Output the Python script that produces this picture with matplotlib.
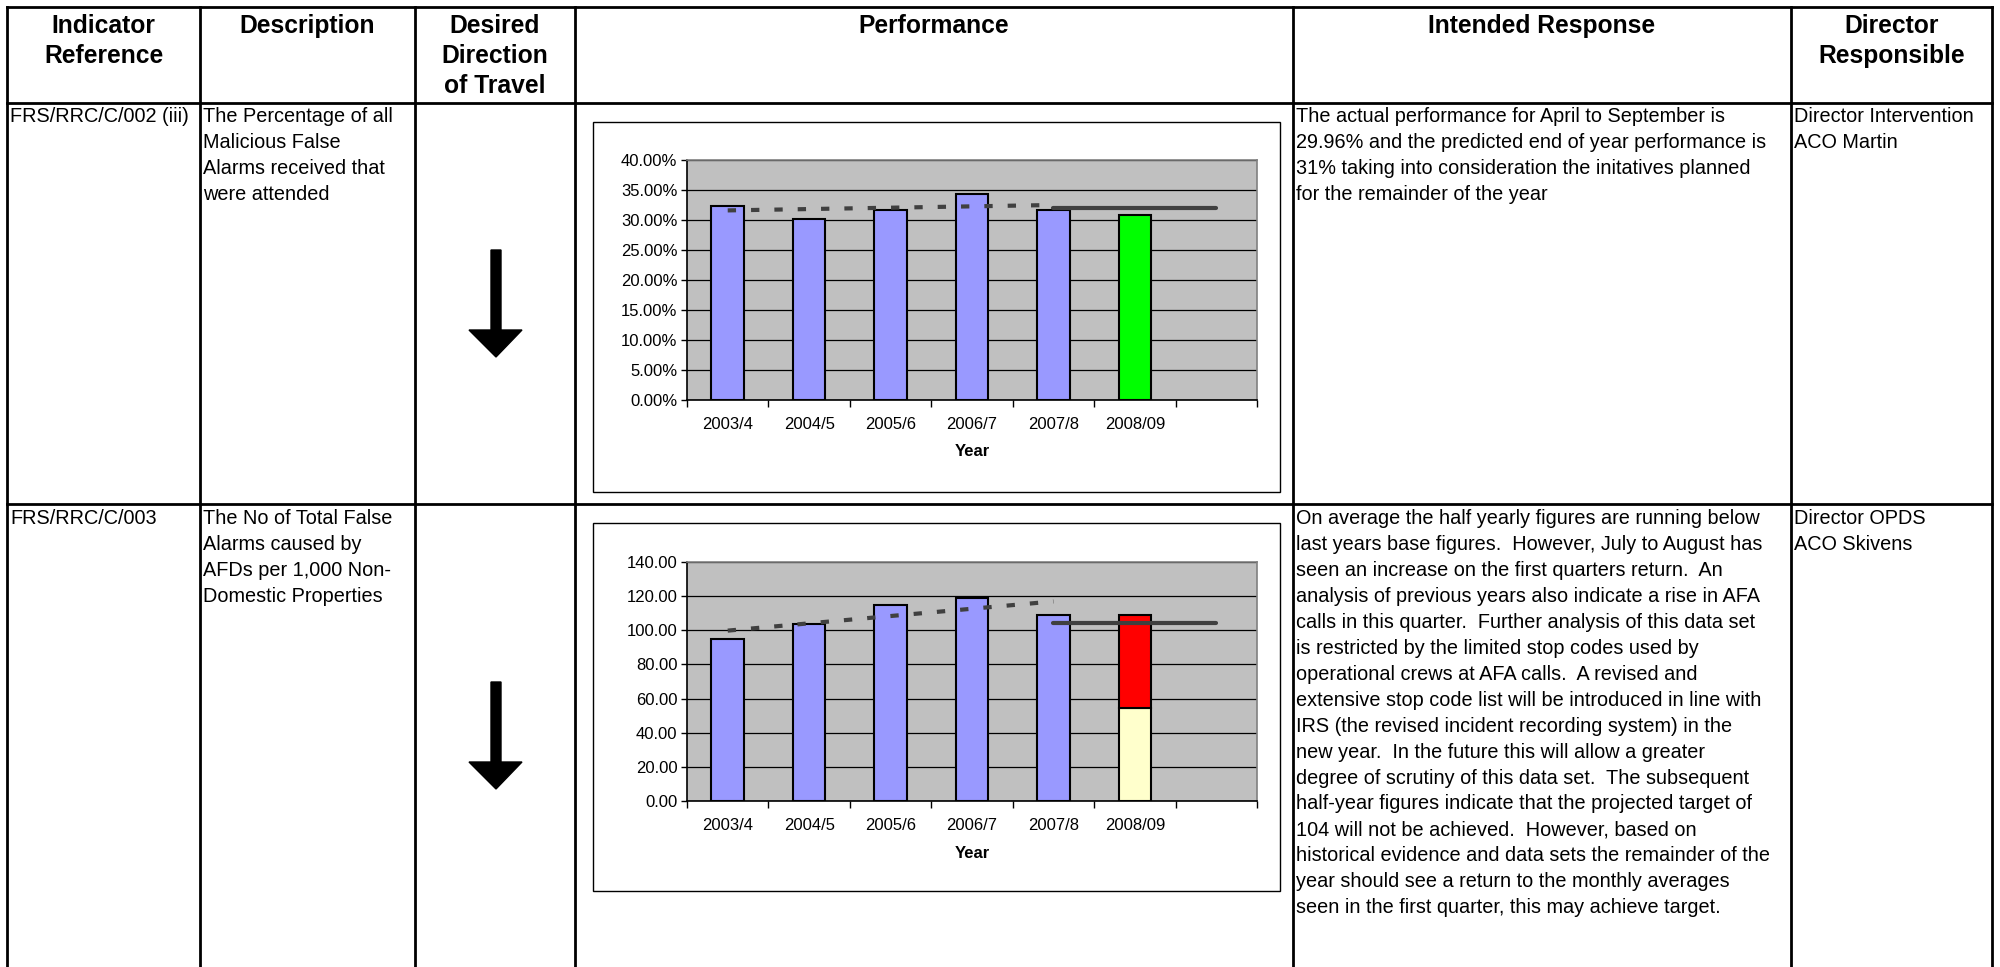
import matplotlib.pyplot as plt
from matplotlib.patches import Rectangle, Polygon

plt.rcParams['font.family'] = ['Liberation Sans', 'DejaVu Sans']

# ---- chart data ----
years = ["2003/4", "2004/5", "2005/6", "2006/7", "2007/8", "2008/09", ""]

mfa_actual = [32.4, 30.2, 31.6, 34.3, 31.7]     # % malicious false alarms attended
mfa_current = 30.9                             # 2008/09 projection
mfa_trend = [31.6, 32.5]                       # dashed trend, 2003/4 -> 2007/8
mfa_target = 32.0

afa_actual = [94.7, 103.9, 115.1, 118.9, 109.2]  # false alarms per 1,000 props
afa_first_half = 54.6
afa_projected = 109.2
afa_trend = [99.8, 116.9]
afa_target = 104.0

# ---- table text ----
headers = [["Indicator", "Reference"], ["Description"],
           ["Desired", "Direction", "of Travel"], ["Performance"],
           ["Intended Response"], ["Director", "Responsible"]]

row1 = [["FRS/RRC/C/002 (iii)"],
        ["The Percentage of all", "Malicious False", "Alarms received that",
         "were attended"],
        ["The actual performance for April to September is",
         "29.96% and the predicted end of year performance is",
         "31% taking into consideration the initatives planned",
         "for the remainder of the year"],
        ["Director Intervention", "ACO Martin"]]

row2 = [["FRS/RRC/C/003"],
        ["The No of Total False", "Alarms caused by", "AFDs per 1,000 Non-",
         "Domestic Properties"],
        ["On average the half yearly figures are running below",
         "last years base figures.  However, July to August has",
         "seen an increase on the first quarters return.  An",
         "analysis of previous years also indicate a rise in AFA",
         "calls in this quarter.  Further analysis of this data set",
         "is restricted by the limited stop codes used by",
         "operational crews at AFA calls.  A revised and",
         "extensive stop code list will be introduced in line with",
         "IRS (the revised incident recording system) in the",
         "new year.  In the future this will allow a greater",
         "degree of scrutiny of this data set.  The subsequent",
         "half-year figures indicate that the projected target of",
         "104 will not be achieved.  However, based on",
         "historical evidence and data sets the remainder of the",
         "year should see a return to the monthly averages",
         "seen in the first quarter, this may achieve target."],
        ["Director OPDS", "ACO Skivens"]]

W, H = 2000, 967
fig = plt.figure(figsize=(20, 9.67), dpi=100)
tab = fig.add_axes([0, 0, 1, 1])
tab.set_xlim(0, W)
tab.set_ylim(H, 0)
tab.axis('off')

cols = [7, 200, 415, 575, 1293, 1791, 1992]
for x in cols:
    tab.plot([x, x], [7, H], color='black', lw=2)
for y in [7, 103, 504]:
    tab.plot([cols[0], cols[-1]], [y, y], color='black', lw=2)

# header
for i, lines in enumerate(headers):
    xc = (cols[i] + cols[i + 1]) / 2
    for j, s in enumerate(lines):
        tab.text(xc, 26 + 30 * j, s, ha='center', va='center',
                 fontsize=17.7, fontweight='bold')

# body rows (text in columns 1, 2, 5, 6)
for y0, row in [(117, row1), (519, row2)]:
    for ci, lines in zip([0, 1, 4, 5], row):
        for j, s in enumerate(lines):
            tab.text(cols[ci] + 3, y0 + 25.9 * j, s, ha='left', va='center',
                     fontsize=14.3)

# direction arrows
for top in [250, 682]:
    tab.add_patch(Polygon([(491, top), (501, top), (501, top + 80),
                           (522, top + 80), (496, top + 107),
                           (469, top + 80), (491, top + 80)],
                          closed=True, color='black'))

# chart frames
for top, bot in [(122, 492), (523, 891)]:
    tab.add_patch(Rectangle((593, top), 1280 - 593, bot - top,
                            facecolor='white', edgecolor='black', lw=1))


def chart(px, actual, trend, target, ymax, step, fmt, stack=None, last=None):
    x0, y0, x1, y1 = px
    ax = fig.add_axes([x0 / W, 1 - y1 / H, (x1 - x0) / W, (y1 - y0) / H])
    ax.set_facecolor('#C0C0C0')
    n = len(actual)
    ax.bar(range(n), actual, width=0.4, color='#9999FF', edgecolor='black',
           lw=1.5, zorder=3)
    if stack is None:
        ax.bar(n, last, width=0.4, color='#00FF00', edgecolor='black',
               lw=1.5, zorder=3)
    else:
        ax.bar(n, stack[0], width=0.4, color='#FFFFCC', edgecolor='black',
               lw=1.5, zorder=3)
        ax.bar(n, stack[1] - stack[0], bottom=stack[0], width=0.4,
               color='#FF0000', edgecolor='black', lw=1.5, zorder=3)
    ax.plot([0, n - 1], trend, color='#404040', lw=3, ls=(0, (2, 3.6)),
            zorder=4)
    ax.plot([n - 1, len(years) - 1], [target, target], color='#404040',
            lw=3, solid_capstyle='round', zorder=4)
    ax.set_xlim(-0.5, len(years) - 0.5)
    ax.set_ylim(0, ymax)
    yt = [i * step for i in range(int(round(ymax / step)) + 1)]
    ax.set_yticks(yt)
    ax.set_yticklabels([fmt.format(v) for v in yt], fontsize=12)
    ax.grid(axis='y', color='black', lw=0.9, zorder=1)
    ax.set_axisbelow(True)
    ax.set_xticks([i - 0.5 for i in range(len(years) + 1)])
    ax.set_xticklabels([])
    ax.set_xticks(range(len(years)), minor=True)
    ax.set_xticklabels(years, minor=True, fontsize=12)
    ax.tick_params(axis='x', which='major', length=5, width=1, direction='out')
    ax.tick_params(axis='x', which='minor', length=0, pad=12)
    ax.tick_params(axis='y', length=4, width=1, pad=3)
    for s in ['left', 'bottom']:
        ax.spines[s].set_color('black')
        ax.spines[s].set_linewidth(1.2)
    for s in ['top', 'right']:
        ax.spines[s].set_color('#808080')
        ax.spines[s].set_linewidth(1.2)
    tab.text((x0 + x1) / 2, y1 + 52, "Year", ha='center', va='center',
             fontsize=12, fontweight='bold')
    return ax


chart((687, 160, 1257, 400), mfa_actual, mfa_trend, mfa_target, 40, 5,
      "{:.2f}%", last=mfa_current)
chart((687, 562, 1257, 801), afa_actual, afa_trend, afa_target, 140, 20,
      "{:.2f}", stack=(afa_first_half, afa_projected))

fig.savefig("out.png", dpi=100)
